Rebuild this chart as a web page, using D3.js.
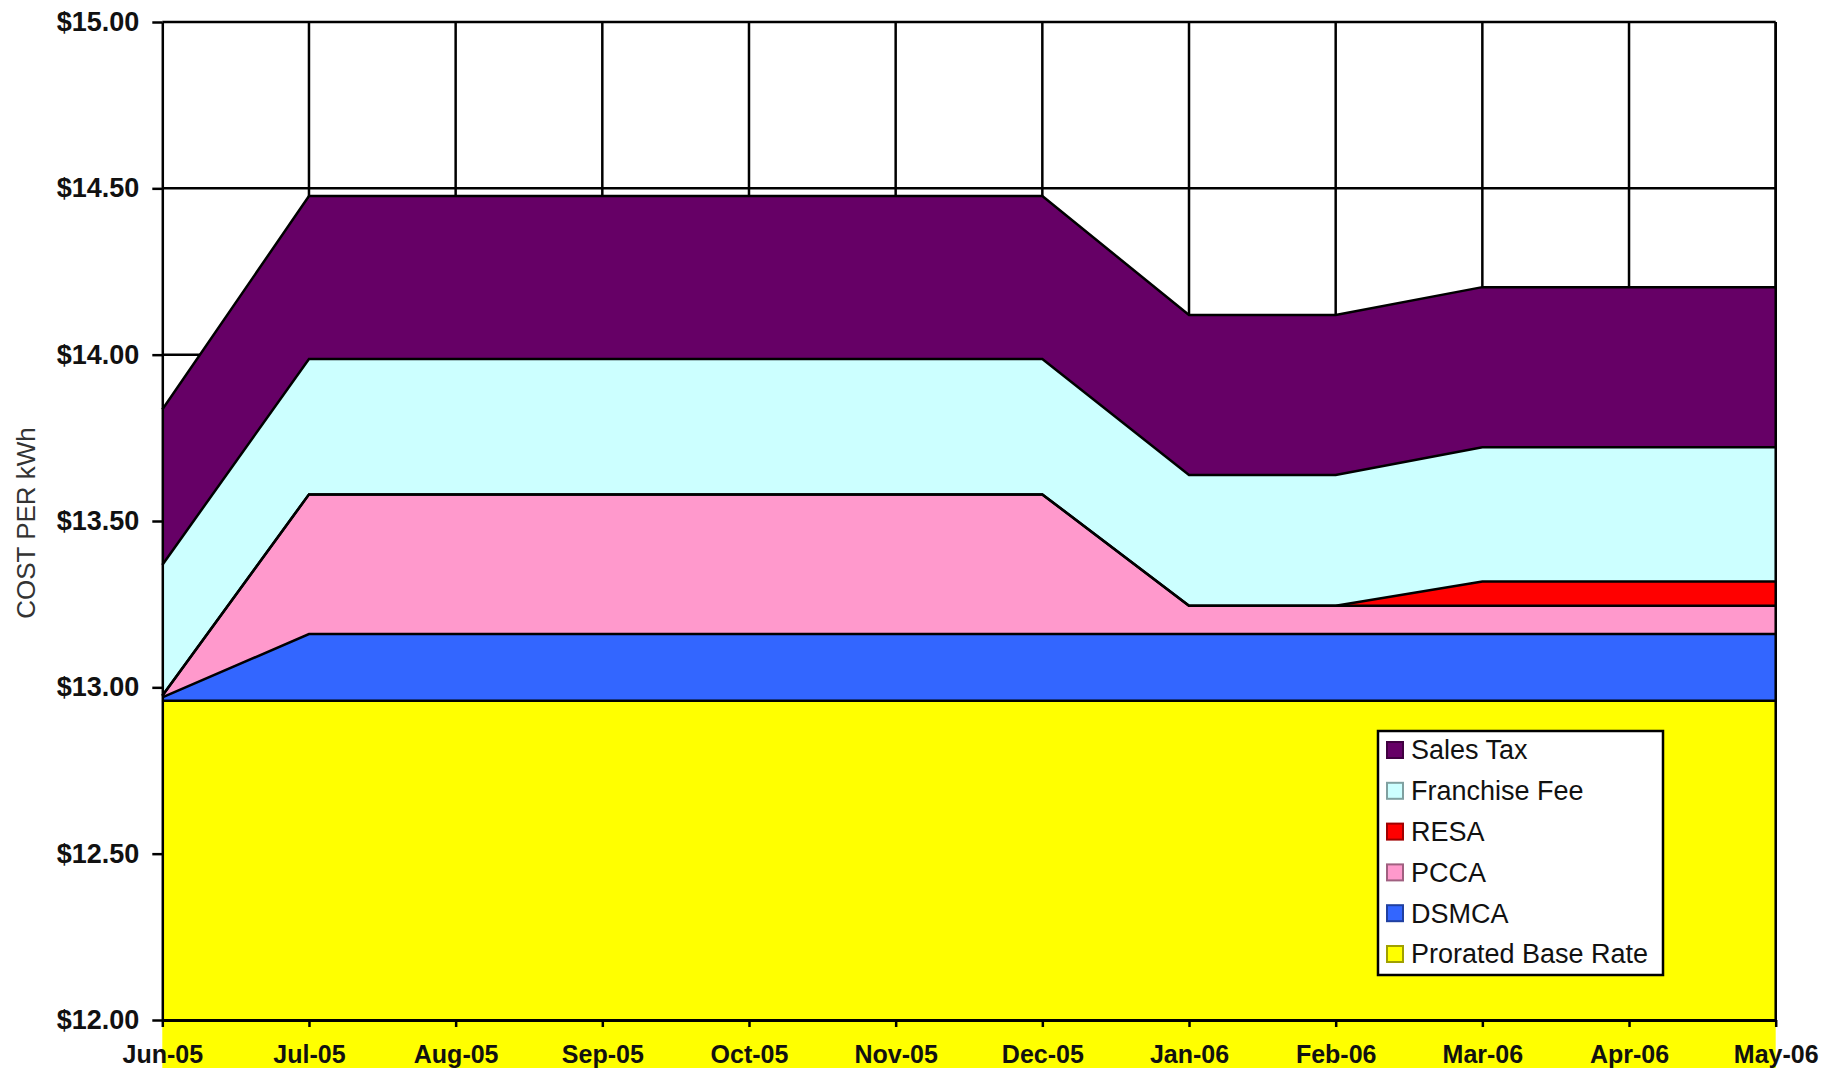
<!DOCTYPE html>
<html>
<head>
<meta charset="utf-8">
<script src="https://cdn.jsdelivr.net/npm/d3@7"></script>
<style>
  html, body { margin: 0; padding: 0; background: #ffffff; }
  svg { display: block; }
</style>
</head>
<body>
<svg id="chart" width="1822" height="1068"></svg>
<script>
// ---- data ----
const months = ["Jun-05","Jul-05","Aug-05","Sep-05","Oct-05","Nov-05","Dec-05","Jan-06","Feb-06","Mar-06","Apr-06","May-06"];
const proratedBaseRate = [12.96,12.96,12.96,12.96,12.96,12.96,12.96,12.96,12.96,12.96,12.96,12.96];
const dsmca      = [0.010,0.200,0.200,0.200,0.200,0.200,0.200,0.200,0.200,0.200,0.200,0.200];
const pcca       = [0.005,0.420,0.420,0.420,0.420,0.420,0.420,0.085,0.085,0.085,0.085,0.085];
const resa       = [0,0,0,0,0,0,0,0,0,0.073,0.073,0.073];
const franchiseFee = [0.393,0.407,0.407,0.407,0.407,0.407,0.407,0.393,0.393,0.404,0.404,0.404];
const salesTax   = [0.467,0.490,0.490,0.490,0.490,0.490,0.490,0.481,0.481,0.481,0.481,0.481];
const yTickValues = [12.00,12.50,13.00,13.50,14.00,14.50,15.00];
const seriesNames = ["Prorated Base Rate","DSMCA","PCCA","RESA","Franchise Fee","Sales Tax"];
const seriesColors = ["#FFFF00","#3366FF","#FF99CC","#FF0000","#CCFFFF","#660066"];
const legendOrder = ["Sales Tax","Franchise Fee","RESA","PCCA","DSMCA","Prorated Base Rate"];
const yTitle = "COST PER kWh";

(function () {
// ---- build table ----
const seriesValues = [proratedBaseRate, dsmca, pcca, resa, franchiseFee, salesTax];
const table = months.map((m, i) => {
  const row = { month: m };
  seriesNames.forEach((s, k) => row[s] = seriesValues[k][i]);
  return row;
});
const color = d3.scaleOrdinal().domain(seriesNames).range(seriesColors);

const svg = d3.select("#chart");
const pLeft = 162.3, pRight = 1775.7, pTop = 22, pBottom = 1020;
const font = "'Liberation Sans', Arial, sans-serif";

const x = d3.scalePoint().domain(months).range([pLeft, pRight]).padding(0);
const y = d3.scaleLinear().domain([12, 15]).range([pBottom, pTop]);

svg.append("rect").attr("width", 1822).attr("height", 1068).attr("fill", "#fff");

// gridlines
const grid = svg.append("g");
grid.selectAll("line.h").data(yTickValues.filter(v => v > 12)).join("line")
  .attr("class", "h")
  .attr("x1", pLeft).attr("x2", pRight)
  .attr("y1", d => y(d)).attr("y2", d => y(d))
  .attr("stroke", "#000").attr("stroke-width", 2.5);
grid.selectAll("line.v").data(months.slice(1)).join("line")
  .attr("class", "v")
  .attr("x1", d => x(d)).attr("x2", d => x(d))
  .attr("y1", pTop).attr("y2", pBottom)
  .attr("stroke", "#000").attr("stroke-width", 2.5);

// stacked areas
const stacked = d3.stack().keys(seriesNames)(table);
const area = d3.area()
  .x(d => x(d.data.month))
  .y0(d => y(d[0]))
  .y1(d => y(d[1]));
const topLine = d3.line()
  .x(d => x(d.data.month))
  .y(d => y(d[1]));

svg.append("g").selectAll("path").data(stacked).join("path")
  .attr("d", area)
  .attr("fill", d => color(d.key));

svg.append("g").selectAll("path").data(stacked).join("path")
  .attr("d", topLine)
  .attr("fill", "none")
  .attr("stroke", "#000")
  .attr("stroke-width", 2.5)
  .attr("stroke-linejoin", "miter");

// right edge line
svg.append("line")
  .attr("x1", pRight).attr("x2", pRight).attr("y1", pTop).attr("y2", pBottom)
  .attr("stroke", "#000").attr("stroke-width", 2.5);

// y axis
const yAxis = svg.append("g")
  .attr("transform", `translate(${pLeft},0)`)
  .call(d3.axisLeft(y).tickValues(yTickValues)
    .tickFormat(d => "$" + d.toFixed(2))
    .tickSize(10).tickSizeOuter(0).tickPadding(13));
yAxis.select(".domain").attr("stroke", "#000").attr("stroke-width", 2.5);
yAxis.selectAll(".tick line").attr("stroke", "#000").attr("stroke-width", 2.5);
yAxis.selectAll(".tick text")
  .attr("font-family", font).attr("font-size", 27).attr("font-weight", "bold")
  .attr("fill", "#111");

// x axis
const xAxis = svg.append("g")
  .attr("transform", `translate(0,${pBottom})`)
  .call(d3.axisBottom(x).tickSize(7).tickSizeOuter(0).tickPadding(18));
xAxis.select(".domain").attr("stroke", "#000").attr("stroke-width", 3);
xAxis.selectAll(".tick line").attr("stroke", "#000").attr("stroke-width", 2.5);
xAxis.selectAll(".tick text")
  .attr("font-family", font).attr("font-size", 25).attr("font-weight", "bold")
  .attr("fill", "#111");

// y title
svg.append("text")
  .attr("transform", "translate(35,523) rotate(-90)")
  .attr("text-anchor", "middle")
  .attr("font-family", font).attr("font-size", 26)
  .attr("fill", "#333")
  .text(yTitle);

// legend
const lg = svg.append("g");
lg.append("rect")
  .attr("x", 1378).attr("y", 731).attr("width", 285).attr("height", 244)
  .attr("fill", "#fff").attr("stroke", "#000").attr("stroke-width", 2.5);
const items = lg.selectAll("g.item").data(legendOrder).join("g")
  .attr("class", "item")
  .attr("transform", (d, i) => `translate(1386,${750 + i * 40.8})`);
items.append("rect")
  .attr("x", 1).attr("y", -8).attr("width", 16).attr("height", 16)
  .attr("fill", d => color(d))
  .attr("stroke", d => d3.color(color(d)).darker(1.3))
  .attr("stroke-width", 2);
items.append("text")
  .attr("x", 25).attr("y", 0).attr("dy", "0.35em")
  .attr("font-family", font).attr("font-size", 27)
  .attr("fill", "#111")
  .text(d => d);
})();
</script>
</body>
</html>
